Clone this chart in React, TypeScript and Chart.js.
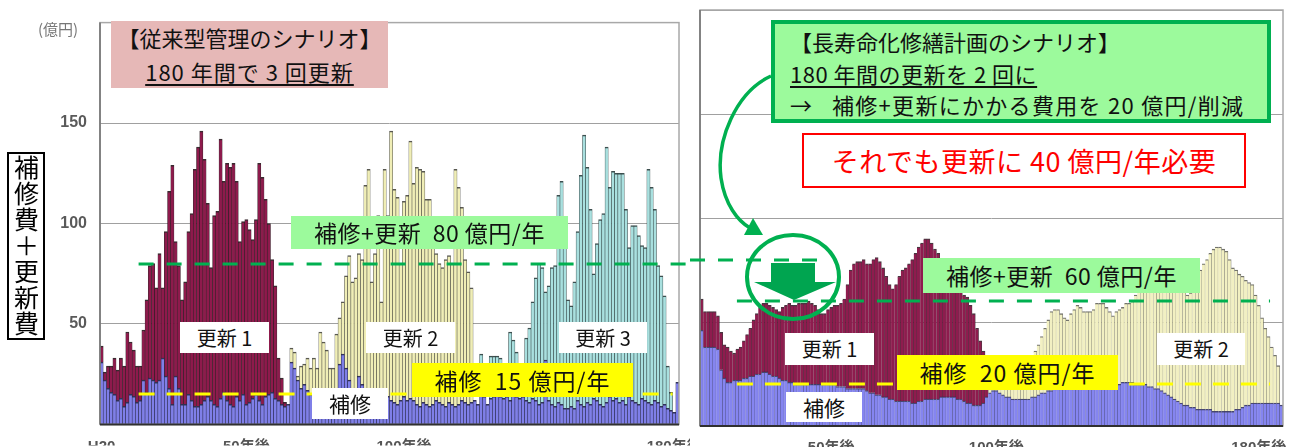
import React, { useEffect, useRef } from 'react';
import { Chart, registerables } from 'chart.js';

Chart.register(...registerables);

// ---- 従来型管理 (left panel): yearly totals and repair share, 億円 ----
const LEFT_TOTAL = [
  39, 26, 29, 29, 33, 27, 33, 29, 46, 41,
  37, 29, 29, 47, 62, 79, 80, 68, 85, 68,
  96, 116, 129, 91, 79, 62, 71, 96, 105, 127,
  138, 146, 132, 110, 78, 104, 106, 142, 121, 130,
  128, 130, 121, 91, 101, 102, 97, 92, 102, 130,
  123, 112, 100, 82, 69, 33, 23, 11, 10, 38,
  36, 24, 29, 30, 33, 28, 33, 28, 46, 41,
  37, 28, 28, 45, 53, 61, 74, 84, 71, 73,
  85, 82, 119, 127, 71, 85, 104, 61, 127, 104,
  146, 117, 113, 80, 111, 114, 141, 120, 128, 127,
  126, 112, 112, 95, 85, 80, 78, 82, 84, 80,
  127, 118, 108, 82, 76, 68, 12, 10, 35, 14,
  10, 34, 34, 34, 33, 30, 14, 46, 42, 36,
  28, 14, 43, 48, 61, 73, 80, 78, 66, 69,
  78, 79, 114, 121, 90, 62, 59, 71, 96, 124,
  144, 128, 107, 75, 90, 102, 105, 138, 118, 126,
  125, 125, 125, 107, 88, 99, 99, 94, 89, 88,
  127, 118, 107, 79, 74, 64, 29, 16, 6, 21,
];
const LEFT_REPAIR = [
  31, 22, 18, 16, 15, 12, 13, 9, 11, 15,
  14, 11, 12, 22, 16, 23, 22, 21, 22, 33,
  24, 18, 10, 24, 18, 10, 10, 15, 12, 9,
  9, 10, 12, 14, 12, 10, 9, 13, 16, 12,
  10, 9, 14, 12, 15, 10, 11, 13, 15, 12,
  10, 14, 15, 16, 13, 12, 10, 9, 10, 31,
  28, 22, 18, 20, 17, 15, 13, 12, 14, 16,
  13, 12, 10, 14, 30, 35, 28, 22, 15, 17,
  24, 20, 14, 12, 13, 15, 12, 10, 9, 14,
  12, 11, 10, 12, 14, 12, 13, 12, 10, 9,
  11, 10, 9, 10, 12, 11, 10, 9, 11, 10,
  9, 10, 12, 11, 10, 11, 12, 10, 15, 14,
  10, 13, 14, 15, 14, 13, 14, 12, 15, 14,
  13, 14, 12, 11, 13, 12, 10, 11, 32, 12,
  10, 9, 11, 10, 8, 8, 9, 8, 12, 10,
  9, 11, 10, 13, 12, 10, 9, 11, 14, 12,
  13, 11, 12, 10, 14, 12, 11, 10, 13, 12,
  11, 10, 12, 11, 9, 10, 8, 7, 6, 21,
];
// first year of 更新1 / 更新2 / 更新3, and last renewal year
const LEFT_PHASE_START = [0, 59, 118];
const LEFT_PHASE_END = 178;

// ---- 長寿命化修繕計画 (right panel) ----
const RIGHT_TOTAL = [
  61, 55, 55, 55, 55, 53, 45, 39, 38, 36,
  35, 37, 38, 41, 44, 47, 51, 54, 57, 59,
  59, 58, 57, 56, 55, 57, 58, 59, 58, 58,
  59, 59, 59, 60, 59, 58, 56, 54, 54, 56,
  57, 58, 58, 59, 61, 68, 75, 78, 79, 79,
  80, 78, 78, 80, 81, 79, 76, 72, 68, 66,
  68, 72, 75, 76, 78, 80, 83, 86, 88, 90,
  90, 88, 85, 83, 80, 78, 76, 73, 70, 67,
  65, 63, 62, 58, 54, 47, 41, 36, 32, 30,
  28, 26, 24, 23, 22, 22, 23, 24, 25, 27,
  29, 31, 33, 36, 39, 43, 47, 51, 55, 56,
  56, 54, 52, 51, 54, 56, 58, 57, 55, 55,
  55, 56, 59, 59, 59, 57, 55, 53, 55, 56,
  57, 59, 59, 60, 63, 65, 67, 68, 70, 72,
  73, 74, 74, 75, 74, 73, 72, 70, 68, 65,
  63, 64, 67, 72, 75, 78, 80, 83, 85, 86,
  86, 85, 84, 80, 76, 75, 73, 72, 70, 69,
  68, 63, 58, 52, 47, 43, 38, 34, 29, 10,
];
const RIGHT_REPAIR = [
  46, 38, 38, 38, 38, 37, 27, 23, 21, 21,
  22, 22, 22, 23, 23, 24, 24, 25, 25, 26,
  26, 25, 24, 24, 23, 22, 22, 21, 21, 20,
  20, 20, 20, 20, 20, 20, 20, 20, 20, 20,
  20, 20, 19, 19, 19, 18, 18, 18, 18, 18,
  18, 17, 16, 16, 15, 15, 14, 14, 13, 13,
  12, 12, 12, 12, 12, 11, 11, 12, 12, 13,
  13, 13, 13, 13, 14, 14, 14, 14, 14, 13,
  13, 12, 11, 11, 10, 10, 10, 11, 14, 16,
  17, 17, 16, 15, 14, 14, 13, 13, 13, 13,
  13, 13, 14, 14, 15, 16, 16, 17, 17, 18,
  18, 18, 18, 18, 18, 18, 18, 18, 19, 19,
  19, 19, 19, 19, 19, 20, 20, 20, 20, 20,
  21, 21, 21, 21, 20, 20, 20, 20, 19, 19,
  18, 18, 17, 16, 15, 14, 13, 12, 11, 10,
  10, 9, 9, 8, 8, 8, 8, 8, 7, 7,
  7, 7, 7, 7, 7, 8, 8, 9, 10, 10,
  11, 11, 11, 11, 11, 11, 11, 11, 11, 10,
];
const RIGHT_PHASE_START = [0, 89];
const RIGHT_PHASE_END = 178;

// x-axis captions (bar index -> text)
const LEFT_TICKS: [number, string][] = [[0, 'H20'], [45, '50年後'], [94, '100年後'], [178, '180年後']];
const RIGHT_TICKS: [number, string][] = [[40, '50年後'], [91, '100年後'], [172, '180年後']];

const Y_TICKS = [50, 100, 150];
const Y_MAX = 200;

// reference levels (億円/年)
const LEFT_TOTAL_LEVEL = 80;
const LEFT_REPAIR_LEVEL = 15;
const RIGHT_TOTAL_LEVEL = 60;
const RIGHT_REPAIR_LEVEL = 20;

const GREEN = '#00b050';
const YELLOW = '#ffff00';
const JP = "'Noto Sans CJK JP', 'Noto Sans', sans-serif";

type Line = { value: number; from: number | 'start'; to: number | 'end'; color: string; dash: number[] };

const panelDecor = {
  id: 'panelDecor',
  afterDatasetsDraw(chart: any, _args: any, opts: any) {
    const { ctx, chartArea: a, scales } = chart;
    const x = scales.x;
    const y = scales.y;
    const step = x.getPixelForValue(1) - x.getPixelForValue(0);
    const at = (p: number | 'start' | 'end') =>
      p === 'start' ? 0 : p === 'end' ? chart.width : x.getPixelForValue(0) - step / 2 + p * step;
    ctx.save();
    ctx.strokeStyle = '#a8a8a8';
    ctx.lineWidth = 1.5;
    ctx.strokeRect(a.left, a.top, a.right - a.left, a.bottom - a.top);
    ctx.strokeStyle = '#707070';
    ctx.beginPath();
    ctx.moveTo(a.left, a.top);
    ctx.lineTo(a.left, a.bottom);
    ctx.stroke();
    ctx.strokeStyle = '#303030';
    ctx.lineWidth = 2;
    ctx.beginPath();
    ctx.moveTo(a.left, a.bottom);
    ctx.lineTo(a.right, a.bottom);
    ctx.stroke();
    for (const l of (opts.lines || []) as Line[]) {
      const py = Math.round(y.getPixelForValue(l.value));
      ctx.setLineDash(l.dash);
      ctx.strokeStyle = l.color;
      ctx.lineWidth = 3;
      ctx.beginPath();
      ctx.moveTo(at(l.from), py);
      ctx.lineTo(at(l.to), py);
      ctx.stroke();
    }
    ctx.restore();
  },
};

function renewal(total: number[], repair: number[], start: number, end: number) {
  return total.map((t, i) => (i >= start && i <= end && t - repair[i] > 0 ? t - repair[i] : null));
}

function tickLabels(n: number, ticks: [number, string][]) {
  const labels = new Array(n).fill('');
  ticks.forEach(([i, s]) => (labels[i] = s));
  return labels;
}

type PanelProps = {
  total: number[];
  repair: number[];
  phaseStart: number[];
  phaseEnd: number;
  colors: { fill: string; edge: string }[];
  repairColor: { fill: string; edge: string };
  ticks: [number, string][];
  showY: boolean;
  yWidth: number;
  padLeft: number;
  padRight: number;
  width: number;
  left: number;
  lines: Line[];
  border: any;
};

function Panel(p: PanelProps) {
  const ref = useRef<HTMLCanvasElement>(null);
  useEffect(() => {
    if (!ref.current) return;
    const labels = tickLabels(p.total.length, p.ticks);
    const datasets: any[] = [
      {
        label: '補修',
        data: p.repair,
        backgroundColor: p.repairColor.fill,
        borderColor: p.repairColor.edge,
        borderWidth: p.border,
      },
    ];
    p.phaseStart.forEach((s, k) => {
      const e = k + 1 < p.phaseStart.length ? p.phaseStart[k + 1] - 1 : p.phaseEnd;
      datasets.push({
        label: `更新${k + 1}`,
        data: renewal(p.total, p.repair, s, e),
        backgroundColor: p.colors[k].fill,
        borderColor: p.colors[k].edge,
        borderWidth: p.border,
      });
    });
    const chart = new Chart(ref.current, {
      type: 'bar',
      data: { labels, datasets },
      plugins: [panelDecor as any],
      options: {
        responsive: false,
        animation: false,
        devicePixelRatio: 1,
        layout: { autoPadding: false, padding: { left: p.padLeft, right: p.padRight, top: 10, bottom: 0 } },
        datasets: { bar: { categoryPercentage: 1, barPercentage: 1 } },
        plugins: {
          legend: { display: false },
          tooltip: { enabled: false },
          panelDecor: { lines: p.lines },
        } as any,
        scales: {
          x: {
            stacked: true,
            grid: { display: false },
            border: { display: false },
            ticks: {
              autoSkip: false,
              maxRotation: 0,
              minRotation: 0,
              padding: 5,
              color: '#555',
              font: { family: "'Liberation Sans', " + JP, size: 15, weight: 'bold' },
            },
            afterFit: (s: any) => {
              s.height = 21;
            },
          },
          y: {
            stacked: true,
            min: 0,
            max: Y_MAX,
            grid: { color: '#a0a0a0', drawTicks: false, lineWidth: 1 },
            border: { display: false },
            ticks: {
              display: p.showY,
              stepSize: 50,
              padding: 13,
              color: '#5a5a5a',
              font: { family: "'Liberation Sans', sans-serif", size: 16, weight: 'bold' },
              callback: (v: any) => (Y_TICKS.includes(Number(v)) ? String(v) : ''),
            },
            afterFit: (s: any) => {
              s.width = p.yWidth;
            },
          },
        },
      } as any,
    });
    return () => chart.destroy();
  }, []);
  return (
    <canvas
      ref={ref}
      width={p.width}
      height={447}
      style={{ position: 'absolute', left: p.left, top: 0, width: p.width, height: 447, display: 'block' }}
    />
  );
}

function Label(props: {
  left: number; top: number; width: number; height: number; bg?: string; border?: string;
  color?: string; size?: number; spacing?: number; children: React.ReactNode;
}) {
  return (
    <div
      style={{
        position: 'absolute',
        left: props.left,
        top: props.top,
        width: props.width,
        height: props.height,
        boxSizing: 'border-box',
        background: props.bg || '#ffffff',
        border: props.border,
        color: props.color || '#111',
        fontFamily: JP,
        fontSize: props.size || 20,
        letterSpacing: props.spacing || 0,
        display: 'flex',
        alignItems: 'center',
        justifyContent: 'center',
        whiteSpace: 'pre',
        lineHeight: 1,
        zIndex: 3,
      }}
    >
      {props.children}
    </div>
  );
}

const MAROON = { fill: '#8e1a4c', edge: 'rgba(35,20,25,0.9)' };
const PALE_YELLOW = { fill: '#f0eeb6', edge: 'rgba(60,60,50,0.85)' };
const PALE_CYAN = { fill: '#a9e0df', edge: 'rgba(40,60,60,0.9)' };
const BLUE = { fill: '#7f7fe8', edge: 'rgba(30,30,70,0.9)' };

export default function App() {
  return (
    <div style={{ position: 'absolute', left: 0, top: 0, width: 1299, height: 447, background: '#ffffff', overflow: 'hidden' }}>
      <Panel
        total={LEFT_TOTAL}
        repair={LEFT_REPAIR}
        phaseStart={LEFT_PHASE_START}
        phaseEnd={LEFT_PHASE_END}
        colors={[MAROON, PALE_YELLOW, PALE_CYAN]}
        repairColor={BLUE}
        ticks={LEFT_TICKS}
        showY={true}
        yWidth={100}
        padLeft={0}
        padRight={11}
        width={690}
        left={0}
        border={{ top: 1.5, left: 0.6, right: 0.6, bottom: 0 }}
        lines={[
          { value: LEFT_TOTAL_LEVEL, from: 12, to: 'end', color: GREEN, dash: [15, 13] },
          { value: LEFT_REPAIR_LEVEL, from: 12, to: 178, color: YELLOW, dash: [16, 12] },
        ]}
      />
      <Panel
        total={RIGHT_TOTAL}
        repair={RIGHT_REPAIR}
        phaseStart={RIGHT_PHASE_START}
        phaseEnd={RIGHT_PHASE_END}
        colors={[
          { fill: '#8e1c4e', edge: 'rgba(40,20,30,0.85)' },
          { fill: '#f2f0c2', edge: 'rgba(70,70,60,0.75)' },
        ]}
        repairColor={{ fill: '#8585f0', edge: 'rgba(40,40,90,0.85)' }}
        ticks={RIGHT_TICKS}
        showY={false}
        yWidth={0}
        padLeft={10}
        padRight={16}
        width={609}
        left={690}
        border={{ top: 1.3, left: 0, right: 0.7, bottom: 0 }}
        lines={[
          { value: LEFT_TOTAL_LEVEL, from: 'start', to: 37, color: GREEN, dash: [15, 13] },
          { value: RIGHT_TOTAL_LEVEL, from: 11.4, to: 176, color: GREEN, dash: [15, 13] },
          { value: RIGHT_REPAIR_LEVEL, from: 11.4, to: 176, color: YELLOW, dash: [16, 12] },
        ]}
      />

      {/* axis unit and title */}
      <div style={{ position: 'absolute', left: 38, top: 18, fontFamily: JP, fontSize: 15, color: '#777' }}>(億円)</div>
      <div
        style={{
          position: 'absolute', left: 7, top: 152, width: 38, height: 188, boxSizing: 'border-box',
          border: '2px solid #000', fontFamily: JP, fontSize: 25, writingMode: 'vertical-rl',
          display: 'flex', alignItems: 'center', justifyContent: 'center', letterSpacing: 1, lineHeight: 1, color: '#000',
        }}
      >
        補修費＋更新費
      </div>

      {/* left panel notes */}
      <div
        style={{
          position: 'absolute', left: 111, top: 21, width: 277, height: 67, background: '#e6b8b7',
          fontFamily: JP, fontSize: 22, color: '#111', textAlign: 'center', lineHeight: '33.5px', zIndex: 3,
        }}
      >
        <div>【従来型管理のシナリオ】</div>
        <div>
          <span style={{ textDecoration: 'underline', textUnderlineOffset: 3, letterSpacing: 1, whiteSpace: 'pre' }}>
            180 年間で 3 回更新
          </span>
        </div>
      </div>
      <Label left={291} top={216} width={277} height={33} bg="#9cfa9c" size={23} spacing={0.5}>補修+更新  80 億円/年</Label>
      <Label left={180} top={322} width={89} height={31}>更新 1</Label>
      <Label left={366} top={322} width={89} height={31}>更新 2</Label>
      <Label left={559} top={322} width={88} height={31}>更新 3</Label>
      <Label left={412} top={363} width={221} height={34} bg={YELLOW} size={23} spacing={1}>補修  15 億円/年</Label>
      <Label left={312} top={388} width={76} height={31} size={21}>補修</Label>

      {/* right panel notes */}
      <svg width={1299} height={447} style={{ position: 'absolute', left: 0, top: 0, zIndex: 2 }}>
        <path d="M 771 76 C 736 92, 716 140, 721 178 C 725 205, 738 221, 750 228" stroke={GREEN} strokeWidth={3.5} fill="none" />
        <polygon points="763,235 744,235 753,218" fill={GREEN} />
        <ellipse cx={793} cy={277} rx={46} ry={42} stroke={GREEN} strokeWidth={4} fill="none" />
        <polygon points="771,263 815,263 815,282 836,282 794,300 754,282 771,282" fill="#00a550" />
      </svg>
      <div
        style={{
          position: 'absolute', left: 771, top: 20, width: 500, height: 103, boxSizing: 'border-box',
          background: '#9cfa9c', border: `4px solid ${GREEN}`, fontFamily: JP, fontSize: 22, color: '#111',
          paddingLeft: 15, paddingTop: 2, lineHeight: '31.5px', whiteSpace: 'pre', zIndex: 3,
        }}
      >
        <div>【長寿命化修繕計画のシナリオ】</div>
        <div>
          <span style={{ textDecoration: 'underline', textUnderlineOffset: 3, letterSpacing: 0.5 }}>180 年間の更新を 2 回に</span>
        </div>
        <div style={{ letterSpacing: 1.3 }}>→   補修+更新にかかる費用を 20 億円/削減</div>
      </div>
      <Label left={802} top={133} width={444} height={55} border="2px solid #ff0000" color="#ff0000" size={27} spacing={0.5}>
        それでも更新に 40 億円/年必要
      </Label>
      <Label left={923} top={258} width={277} height={35} bg="#9cfa9c" size={23} spacing={0.5}>補修+更新  60 億円/年</Label>
      <Label left={785} top={333} width={89} height={32}>更新 1</Label>
      <Label left={1157} top={333} width={88} height={32}>更新 2</Label>
      <Label left={897} top={355} width={221} height={35} bg={YELLOW} size={23} spacing={1}>補修  20 億円/年</Label>
      <Label left={786} top={392} width={76} height={30} size={21}>補修</Label>
    </div>
  );
}
